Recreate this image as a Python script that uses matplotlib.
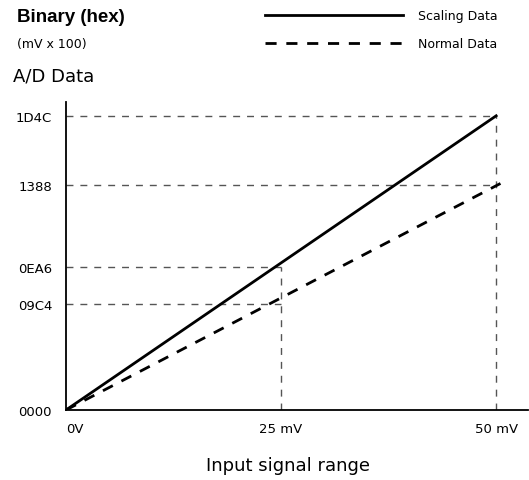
import numpy as np
import matplotlib
matplotlib.use('Agg')
import matplotlib.pyplot as plt

plt.rcParams['font.family'] = ['DejaVu Sans']

# input signal (mV) and A/D output for the two modes
x_mv = [0, 25, 50]
scaling_data = [0, 0x0EA6, 0x1D4C]
normal_data = [0, 0x09C4, 0x1388]
x_labels = ['0V', '25 mV', '50 mV']
y_ticks = [0x0000, 0x09C4, 0x0EA6, 0x1388, 0x1D4C]

# schematic (not proportional) vertical spacing of the hex levels
scale_vals = [0, 2500, 3750, 5000, 7500, 10000]
scale_pos = [0, 106, 143, 225, 294, 363]


def fwd(v):
    return np.interp(v, scale_vals, scale_pos)


def inv(p):
    return np.interp(p, scale_pos, scale_vals)


fig = plt.figure(figsize=(5.29, 4.81), dpi=100)
ax = fig.add_axes([66 / 529, 70 / 481, 462 / 529, 308 / 481])
ax.set_yscale('function', functions=(fwd, inv))

guide = dict(color='#555555', lw=1, dashes=(5, 5))
# guide lines to the 25 mV and 50 mV points
for xv, yv in [(x_mv[1], scaling_data[1]), (x_mv[2], scaling_data[2])]:
    ax.plot([xv, xv], [0, yv], **guide)
    ax.plot([0, xv], [yv, yv], **guide)
for xv, yv in [(x_mv[1], normal_data[1]), (x_mv[2], normal_data[2])]:
    ax.plot([0, xv], [yv, yv], **guide)

ax.plot([x_mv[0], x_mv[2]], [scaling_data[0], scaling_data[2]], color='black', lw=2, label='Scaling Data')
ax.plot([x_mv[0], x_mv[2] + 0.5], [normal_data[0], normal_data[2] * 1.01], color='black', lw=2,
        dashes=(4, 3.5), label='Normal Data')

ax.set_xlim(0, 53.7)
ax.set_ylim(0, 8000)
ax.set_xticks(x_mv)
ax.set_xticklabels(x_labels, fontsize=9.5)
ax.get_xticklabels()[0].set_horizontalalignment('left')
ax.set_yticks(y_ticks)
ax.set_yticklabels(['%04X' % v for v in y_ticks], fontsize=9.5)
ax.yaxis.set_minor_locator(matplotlib.ticker.NullLocator())
ax.tick_params(length=0, pad=10)
ax.tick_params(axis='x', pad=9)
ax.spines['top'].set_visible(False)
ax.spines['right'].set_visible(False)
ax.spines['left'].set_linewidth(1.3)
ax.spines['bottom'].set_linewidth(1.3)

ax.set_xlabel('Input signal range', fontsize=13)
ax.xaxis.set_label_coords(0.48, -46 / 308)

fig.text(17 / 529, 1 - 18 / 481, 'Binary (hex)', fontsize=13.5, fontweight='bold', va='center',
         family='Liberation Sans')
fig.text(17 / 529, 1 - 45 / 481, '(mV x 100)', fontsize=9, va='center')
fig.text(13 / 529, 1 - 77 / 481, 'A/D Data', fontsize=13, va='center')

ax.legend(loc='upper left', bbox_to_anchor=(260 / 529, 1 - 5 / 481), bbox_transform=fig.transFigure,
          frameon=False, fontsize=9, handlelength=11.0, handletextpad=1.2, labelspacing=1.2,
          borderaxespad=0)

fig.savefig('out.png', dpi=100)
